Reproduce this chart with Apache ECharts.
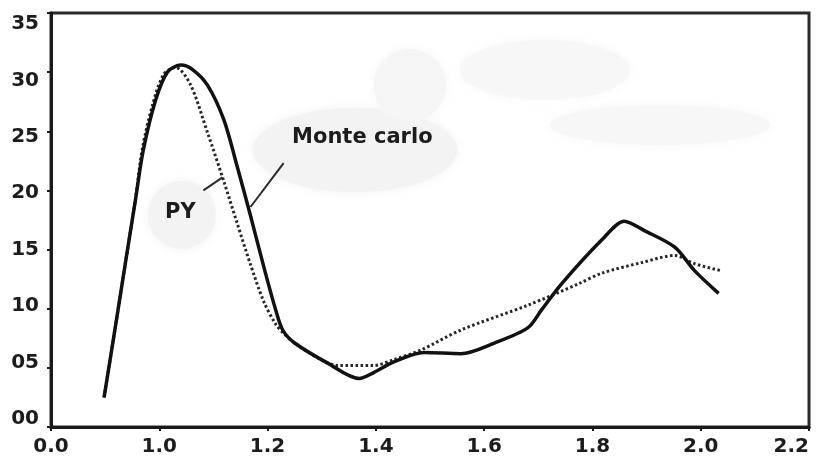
<!DOCTYPE html>
<html>
<head>
<meta charset="utf-8">
<script src="https://cdn.jsdelivr.net/npm/echarts@6/dist/echarts.min.js"></script>
<style>
  html, body { margin: 0; padding: 0; background: #fff; }
  #chart { width: 817px; height: 461px; }
</style>
</head>
<body>
<div id="chart"></div>
<script>
// x-axis: first tick is a broken-axis origin shown as "0.0"
const xTickLabels = ['0.0', '1.0', '1.2', '1.4', '1.6', '1.8', '2.0', '2.2'];
const yTickLabels = ['00', '05', '10', '15', '20', '25', '30', '35'];

// Monte carlo result (solid curve): [x, y]
const monteCarlo = [
  [0.898, 2.5], [0.920, 8.8], [0.941, 14.9], [0.956, 19.2], [0.970, 23.3],
  [0.993, 27.6], [1.015, 30.0], [1.040, 30.6], [1.062, 30.2], [1.089, 28.9],
  [1.119, 26.0], [1.144, 22.0], [1.170, 17.6], [1.195, 13.2], [1.215, 9.9],
  [1.228, 8.2], [1.250, 7.1], [1.311, 5.4], [1.369, 4.1], [1.396, 4.6],
  [1.433, 5.5], [1.489, 6.3], [1.557, 6.2], [1.619, 7.1], [1.681, 8.4],
  [1.706, 9.9], [1.743, 12.1], [1.817, 15.8], [1.859, 17.4], [1.896, 16.6],
  [1.952, 15.2], [1.989, 13.2], [2.033, 11.3]
];

// PY result (dotted curve): [x, y]
const py = [
  [0.898, 2.5], [0.920, 8.8], [0.941, 14.9], [0.956, 19.3], [0.969, 23.6],
  [0.988, 27.3], [1.008, 29.8], [1.030, 30.4], [1.057, 29.0], [1.089, 24.9],
  [1.119, 20.8], [1.144, 17.2], [1.168, 13.8], [1.193, 10.6], [1.215, 8.7],
  [1.230, 7.9], [1.250, 7.1], [1.298, 5.7], [1.330, 5.2], [1.396, 5.2],
  [1.433, 5.7], [1.483, 6.5], [1.557, 8.2], [1.681, 10.3], [1.774, 12.1],
  [1.817, 13.0], [1.891, 13.9], [1.952, 14.5], [1.989, 13.8], [2.039, 13.2]
];

// curve names and their leader lines
const annotations = [
  { name: 'Monte carlo', at: [1.375, 24.5] },
  { name: 'PY', at: [1.039, 18.1] }
];
const leaders = [
  [[1.0815, 20.0], [1.1167, 21.1]],
  [[1.1685, 18.6], [1.2296, 22.3]]
];

const FONT = 'DejaVu Sans';
const INK = '#1c1c1c';

const chart = echarts.init(document.getElementById('chart'), null, { renderer: 'canvas' });

// soft grey patches in the plot background
const blobs = [
  { type: 'ellipse', shape: { cx: 355, cy: 150, rx: 102, ry: 42 }, fill: '#f3f3f3' },
  { type: 'circle', shape: { cx: 410, cy: 85, r: 36 }, fill: '#f5f5f5' },
  { type: 'ellipse', shape: { cx: 545, cy: 70, rx: 85, ry: 30 }, fill: '#f7f7f7' },
  { type: 'ellipse', shape: { cx: 660, cy: 125, rx: 110, ry: 20 }, fill: '#f7f7f7' },
  { type: 'circle', shape: { cx: 182, cy: 215, r: 34 }, fill: '#f3f3f3' }
].map(b => ({
  type: b.type, shape: b.shape, z: -10, silent: true,
  style: { fill: b.fill, shadowBlur: 12, shadowColor: b.fill }
}));

chart.setOption({
  animation: false,
  backgroundColor: '#ffffff',
  graphic: blobs,
  grid: [
    { left: 51, right: 8, top: 13, bottom: 34, show: true,
      borderColor: '#2a2a2a', borderWidth: 3, backgroundColor: 'transparent' },
    // label-only grid for the y tick labels
    { left: 51, right: 8, top: 24, bottom: 42, show: false }
  ],
  xAxis: [
    {
      type: 'value', gridIndex: 0, min: 0.8, max: 2.2, interval: 0.2,
      axisLine: { show: true, lineStyle: { color: '#1a1a1a', width: 3 } },
      axisTick: { show: true, length: 4, lineStyle: { color: '#1a1a1a', width: 2 } },
      splitLine: { show: false },
      axisLabel: {
        show: true, margin: 10, color: INK, fontFamily: FONT, fontWeight: 'bold', fontSize: 20,
        alignMaxLabel: 'right',
        formatter: v => xTickLabels[Math.round((v - 0.8) / 0.2)] ?? ''
      }
    },
    { type: 'value', gridIndex: 1, min: 0, max: 1, show: false }
  ],
  yAxis: [
    {
      type: 'value', gridIndex: 0, min: 0, max: 35, interval: 5,
      axisLine: { show: true, lineStyle: { color: '#1a1a1a', width: 3 } },
      axisTick: { show: true, length: 4, lineStyle: { color: '#1a1a1a', width: 2 } },
      splitLine: { show: false },
      axisLabel: { show: false }
    },
    {
      type: 'value', gridIndex: 1, min: 0, max: 35, interval: 5,
      axisLine: { show: false }, axisTick: { show: false }, splitLine: { show: false },
      axisLabel: {
        show: true, margin: 12, color: INK, fontFamily: FONT, fontWeight: 'bold', fontSize: 20,
        formatter: v => yTickLabels[Math.round(v / 5)] ?? ''
      }
    }
  ],
  series: [
    {
      name: 'PY', type: 'line', xAxisIndex: 0, yAxisIndex: 0,
      data: py, smooth: 0.3, showSymbol: false, z: 3,
      lineStyle: { color: '#262626', width: 3, type: [2.5, 2.5] }
    },
    {
      name: 'Monte carlo', type: 'line', xAxisIndex: 0, yAxisIndex: 0,
      data: monteCarlo, smooth: 0.3, showSymbol: false, z: 4,
      lineStyle: { color: '#111111', width: 3.5 },
      markLine: {
        silent: true, symbol: ['none', 'none'],
        lineStyle: { color: '#2a2a2a', width: 2, type: 'solid' },
        label: { show: false },
        data: leaders.map(([a, b]) => [{ coord: a }, { coord: b }])
      },
      markPoint: {
        silent: true, symbol: 'circle', symbolSize: 0,
        label: {
          show: true, position: 'inside', color: INK,
          fontFamily: FONT, fontWeight: 'bold', fontSize: 21
        },
        data: annotations.map(a => ({ coord: a.at, value: a.name, label: { formatter: a.name } }))
      }
    }
  ]
});
</script>
</body>
</html>
